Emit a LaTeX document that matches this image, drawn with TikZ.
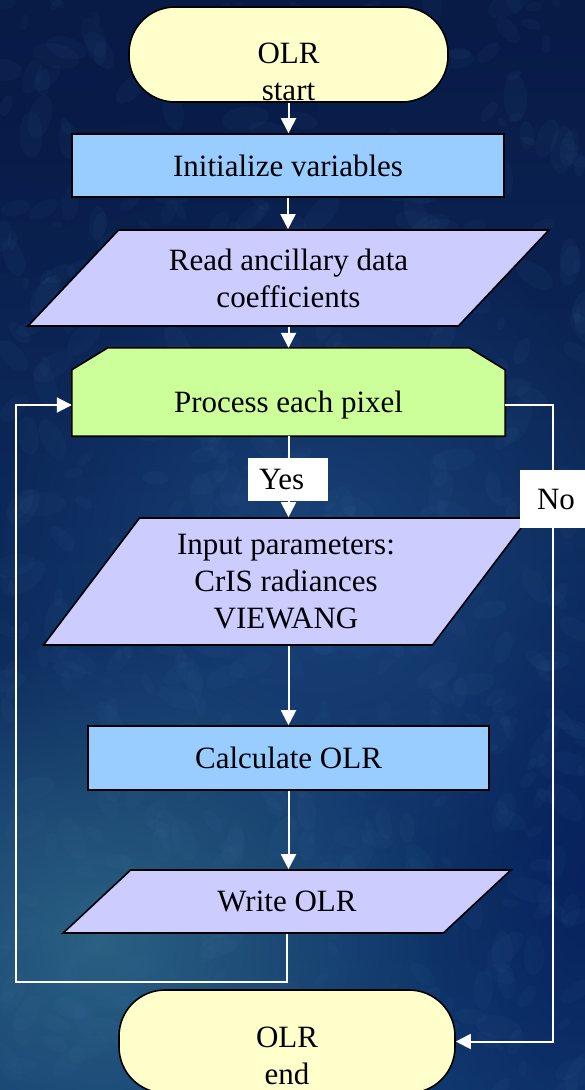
\documentclass[tikz,border=0pt]{standalone}
\usepackage{fontspec}
\setmainfont{Liberation Serif}
\usetikzlibrary{shapes.geometric,arrows.meta,fadings}

\definecolor{skytop}{RGB}{8,26,70}
\definecolor{skybottom}{RGB}{16,56,110}
\definecolor{seaglow}{RGB}{52,112,140}
\definecolor{midglow}{RGB}{34,82,140}
\definecolor{deepnavy}{RGB}{6,30,92}
\definecolor{speckle}{RGB}{70,120,170}
\definecolor{termfill}{HTML}{FFFFCC}
\definecolor{procfill}{HTML}{99CCFF}
\definecolor{iofill}{HTML}{CCCCFF}
\definecolor{loopfill}{HTML}{CCFF99}

\tikzfading[name=softglow, inner color=transparent!0, outer color=transparent!100]

\begin{document}
\begin{tikzpicture}[x=1pt,y=-1pt,
  every node/.style={font=\fontsize{31}{37}\selectfont, text=black},
  outline/.style={draw=black, line width=1.6pt},
  terminal/.style={outline, fill=termfill, rectangle, rounded corners=46pt, inner sep=0pt},
  process/.style={outline, fill=procfill, rectangle, inner sep=0pt},
  io/.style={outline, fill=iofill, trapezium, trapezium stretches=true, inner sep=0pt, align=center},
  txt/.style={align=center, inner sep=0pt},
  tag/.style={fill=white, inner sep=0pt, align=left},
  wire/.style={draw=white, line width=2pt},
  flow/.style={wire, -{Triangle[width=15pt,length=15pt]}}
]
\useasboundingbox (0,0) rectangle (585,1090);
\clip (0,0) rectangle (585,1090);

% background: dark sky blue, softly mottled, with a teal cast in the lower left
\shade[top color=skytop, bottom color=skybottom] (0,0) rectangle (585,1090);
\fill[midglow, path fading=softglow, fill opacity=0.6] (320,560) ellipse (330pt and 360pt);
\fill[seaglow, path fading=softglow, fill opacity=0.75] (100,940) ellipse (340pt and 300pt);
\fill[deepnavy, path fading=softglow, fill opacity=0.8] (585,880) ellipse (170pt and 330pt);
\fill[skytop, path fading=softglow, fill opacity=0.6] (60,80) ellipse (260pt and 200pt);
\pgfmathsetseed{11}
\foreach \i in {1,...,600} {
  \pgfmathsetmacro\bx{rnd*585}
  \pgfmathsetmacro\by{rnd*1090}
  \pgfmathsetmacro\br{6+rnd*18}
  \pgfmathsetmacro\bs{0.5*\br}
  \pgfmathsetmacro\ba{rnd*180}
  \fill[speckle, fill opacity=0.06, rotate around={\ba:(\bx,\by)}] (\bx,\by) ellipse (\br pt and \bs pt);
}

% flowchart shapes
\node[terminal, minimum width=319pt, minimum height=95pt] (start) at (288.5,54.5) {};
\node[txt] (starttxt) at (288.5,72) {OLR\\start};

\node[process, minimum width=432pt, minimum height=63pt] (init) at (288,165.5) {Initialize variables};

\node[io, trapezium left angle=42.7, trapezium right angle=137.3,
      minimum width=523pt, minimum height=96pt] (read) at (288.5,278) {Read ancillary data\\coefficients};

\node[draw=none, inner sep=0pt, minimum width=433pt, minimum height=88pt] (proc) at (288.5,392) {};
\filldraw[outline, fill=loopfill]
  (proc.south west) -- ([yshift=-22pt]proc.north west) -- ([xshift=36pt]proc.north west)
  -- ([xshift=-36pt]proc.north east) -- ([yshift=-22pt]proc.north east) -- (proc.south east) -- cycle;
\node[txt] (proctxt) at (288.5,405) {Process each pixel};

\node[io, trapezium left angle=53, trapezium right angle=127,
      minimum width=487pt, minimum height=127pt] (input) at (286,581.5) {Input parameters:\\CrIS radiances\\VIEWANG};

\node[process, minimum width=401pt, minimum height=64pt] (calc) at (288.5,758) {Calculate OLR};

\node[io, trapezium left angle=35, trapezium right angle=145,
      minimum width=448pt, minimum height=63pt] (write) at (287,901.5) {Write OLR};

\node[terminal, minimum width=336pt, minimum height=103pt] (end) at (287,1041.5) {};
\node[txt] (endtxt) at (287,1056) {OLR\\end};

% connectors
\coordinate (lpx) at (15.7,982);
\coordinate (rpx) at (553,0);
\draw[flow] (start.south) -- (start.south |- init.north);
\draw[flow] (init.south) -- (init.south |- read.north);
\draw[flow] (read.south) -- (read.south |- proc.north);
\draw[flow] (proc.south) -- (proc.south |- input.north);
\draw[flow] (input.south -| calc.north) -- (calc.north);
\draw[flow] (calc.south) -- (calc.south |- write.north);
\draw[flow] (write.south) -- (write.south |- lpx) -- (lpx) -- (lpx |- proctxt) -- (proc.west |- proctxt);
\draw[flow] (proc.east |- proctxt) -- (rpx |- proctxt) -- (rpx |- end.east) -- (end.east);

% branch labels
\node[tag, text width=58pt, inner xsep=11pt, minimum height=43pt] (yes) at (288,479.5) {Yes};
\node[tag, text width=55pt, inner xsep=17pt, minimum height=58pt] (no) at (564.5,499) {No};
\end{tikzpicture}
\end{document}
